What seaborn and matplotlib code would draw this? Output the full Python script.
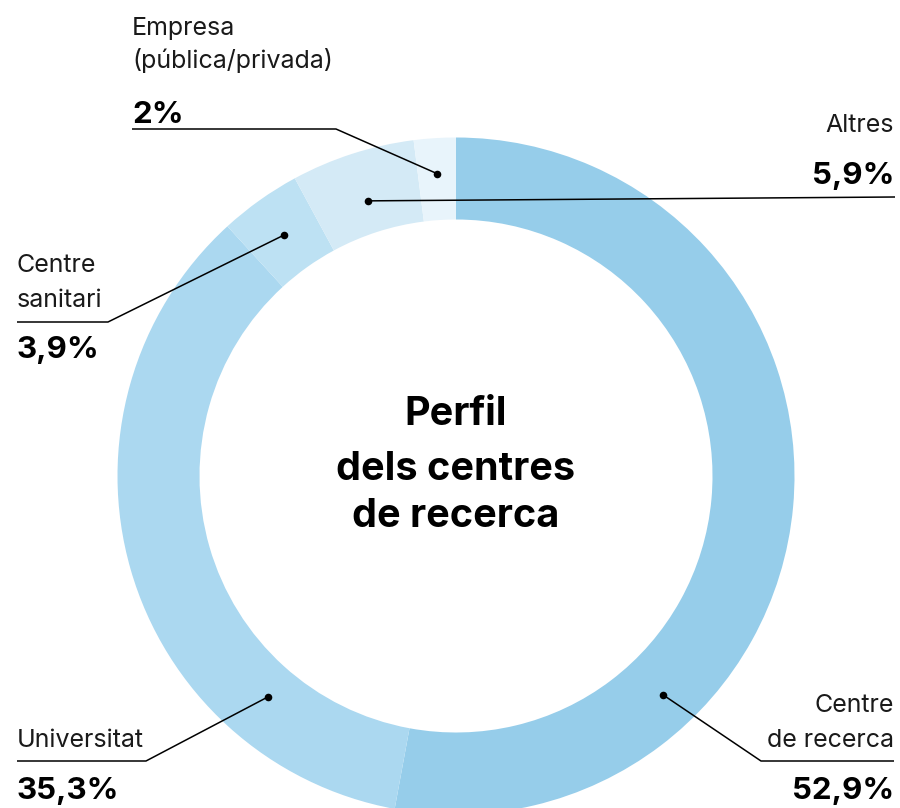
import numpy as np
import matplotlib.pyplot as plt
import seaborn as sns

# data
categories = ['Centre de recerca', 'Universitat', 'Centre sanitari', 'Altres', 'Empresa (pública/privada)']
shares = [52.9, 35.3, 3.9, 5.9, 2.0]
pct_labels = ['52,9%', '35,3%', '3,9%', '5,9%', '2%']
name_lines = [['Centre', 'de recerca'], ['Universitat'], ['Centre', 'sanitari'], ['Altres'],
              ['Empresa', '(pública/privada)']]
title_lines = ['Perfil', 'dels centres', 'de recerca']

colors = sns.color_palette(['#96cdea', '#abd8f0', '#bde1f3', '#d4eaf6', '#e8f4fb'])

sns.set_style('white')
plt.rcParams['font.family'] = ['Inter', 'DejaVu Sans']

fig = plt.figure(figsize=(9, 8.08), dpi=100)
ax = fig.add_axes([0, 0, 1, 1])

# donut, pixel-like coordinates (y down)
cx, cy = 456, 476
r_out, ring = 338.5, 82
ax.pie(shares, colors=colors, startangle=-90, counterclock=True, center=(cx, cy),
       radius=r_out, wedgeprops=dict(width=ring, linewidth=0), frame=True)
ax.set_xlim(0, 900)
ax.set_ylim(808, 0)
ax.set_aspect('equal')
ax.axis('off')

# leader dots: middle of the wedge, except the two big ones
fr = np.cumsum([0] + shares) / sum(shares) * 360
mid = (fr[:-1] + fr[1:]) / 2
mid[0], mid[1] = 136.6, 220.4
r_dot = [301, 290, 296, 289, 303]

# layout for labels
elbows = [(761, 761), (146, 761), (108, 322), (895, 197), (336, 129)]
ends_x = [894, 17, 17, 895, 132]
text_x = [894, 17, 17, 894, 132]
text_ha = ['right', 'left', 'left', 'right', 'left']
name_y = [[712, 747], [747], [272, 307], [132], [35, 68]]
pct_y = [799, 799, 358, 184, 123]

for i in range(len(shares)):
    a = np.deg2rad(mid[i])
    dx, dy = cx + r_dot[i] * np.sin(a), cy - r_dot[i] * np.cos(a)
    ex, ey = elbows[i]
    ax.plot([dx, ex, ends_x[i]], [dy, ey, ey], color='black', lw=1.1, solid_capstyle='butt')
    ax.scatter([dx], [dy], s=30, color='black', zorder=5, linewidths=0)
    for line, yy in zip(name_lines[i], name_y[i]):
        ax.text(text_x[i], yy, line, ha=text_ha[i], va='baseline', fontsize=18, color='#1a1a1a')
    ax.text(text_x[i], pct_y[i], pct_labels[i], ha=text_ha[i], va='baseline',
            fontsize=22.5, fontweight='bold', color='black')

for line, yy in zip(title_lines, [425, 480, 527]):
    ax.text(cx, yy, line, ha='center', va='baseline', fontsize=28.5, fontweight='bold', color='black')

fig.savefig('out.png', dpi=100)
